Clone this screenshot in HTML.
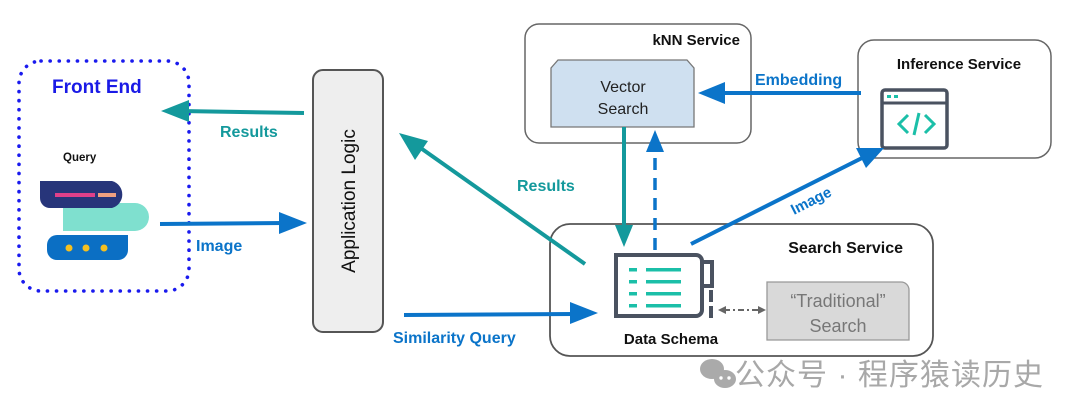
<!DOCTYPE html>
<html><head><meta charset="utf-8"><style>
html,body{margin:0;padding:0;background:#fff;}
svg{display:block;font-family:"Liberation Sans",Arial,sans-serif;}
</style></head><body>
<svg width="1080" height="417" viewBox="0 0 1080 417" xmlns="http://www.w3.org/2000/svg">

<!-- Front End -->
<rect x="19" y="61" width="170" height="230" rx="22" fill="none" stroke="#1a1aee" stroke-width="3.6" stroke-dasharray="0.1 9" stroke-linecap="round"/>
<text x="52" y="93" font-size="19" font-weight="bold" fill="#1a1ae6">Front End</text>
<text x="63" y="161" font-size="11.5" font-weight="bold" fill="#111">Query</text>
<path d="M63,203 h72 a14,14 0 0 1 0,28 h-72 z" fill="#7fe0cf"/>
<path d="M40,181 h72 a14,14 0 0 1 0,27 h-62 a10,10 0 0 1 -10,-10 z" fill="#27357a"/>
<rect x="55" y="193" width="40" height="4" fill="#e0408a"/>
<rect x="98" y="193" width="18" height="4" fill="#f0a080"/>
<path d="M57,235 h71 v15 a10,10 0 0 1 -10,10 h-61 a10,10 0 0 1 -10,-10 v-5 a10,10 0 0 1 10,-10 z" fill="#0b6fc4"/>
<circle cx="69" cy="248" r="3.5" fill="#f5c020"/><circle cx="86" cy="248" r="3.5" fill="#f5c020"/><circle cx="104" cy="248" r="3.5" fill="#f5c020"/>

<!-- Application Logic -->
<rect x="313" y="70" width="70" height="262" rx="10" fill="#eeeeee" stroke="#555" stroke-width="2"/>
<text transform="translate(355,201) rotate(-90)" text-anchor="middle" font-size="19" fill="#111">Application Logic</text>

<!-- kNN Service -->
<rect x="525" y="24" width="226" height="119" rx="14" fill="#fff" stroke="#666" stroke-width="1.5"/>
<text x="740" y="45" text-anchor="end" font-size="15" font-weight="bold" fill="#111">kNN Service</text>
<polygon points="558,60 687,60 694,68 694,127 551,127 551,68" fill="#cfe0f0" stroke="#777" stroke-width="1.3"/>
<text x="623" y="92" text-anchor="middle" font-size="16" fill="#222">Vector</text>
<text x="623" y="114" text-anchor="middle" font-size="16" fill="#222">Search</text>

<!-- Inference Service -->
<rect x="858" y="40" width="193" height="118" rx="16" fill="#fff" stroke="#666" stroke-width="1.5"/>
<text x="959" y="69" text-anchor="middle" font-size="15" font-weight="bold" fill="#111">Inference Service</text>
<rect x="882" y="90" width="65" height="58" rx="3" fill="none" stroke="#4a5260" stroke-width="3.5"/>
<line x1="882" y1="103" x2="947" y2="103" stroke="#4a5260" stroke-width="3"/>
<rect x="887" y="95" width="4" height="3" fill="#1bbfa8"/><rect x="894" y="95" width="4" height="3" fill="#1bbfa8"/>
<polyline points="908,115 899,124 908,133" fill="none" stroke="#1bbfa8" stroke-width="3"/>
<polyline points="925,115 934,124 925,133" fill="none" stroke="#1bbfa8" stroke-width="3"/>
<line x1="919" y1="113" x2="914" y2="135" stroke="#1bbfa8" stroke-width="3"/>

<!-- Search Service -->
<rect x="550" y="224" width="383" height="132" rx="20" fill="#fff" stroke="#555" stroke-width="1.8"/>
<text x="903" y="253" text-anchor="end" font-size="16" font-weight="bold" fill="#111">Search Service</text>

<!-- Results left arrow -->
<line x1="304" y1="113" x2="180" y2="111" stroke="#14999c" stroke-width="4"/>
<polygon points="161,111 189,100 189,122" fill="#14999c"/>
<text x="220" y="137" font-size="16" font-weight="bold" fill="#14999c">Results</text>

<!-- Image arrow -->
<line x1="160" y1="224" x2="285" y2="223" stroke="#0b74c9" stroke-width="4"/>
<polygon points="307,223 279,212 279,234" fill="#0b74c9"/>
<text x="196" y="251" font-size="16" font-weight="bold" fill="#0b74c9">Image</text>

<!-- Results diagonal -->
<line x1="585" y1="264" x2="415" y2="144" stroke="#14999c" stroke-width="4"/>
<polygon points="399,133 428,141 415,160" fill="#14999c"/>
<text x="517" y="191" font-size="16" font-weight="bold" fill="#14999c">Results</text>

<!-- Similarity query -->
<line x1="404" y1="315" x2="575" y2="314" stroke="#0b74c9" stroke-width="4"/>
<polygon points="598,313 570,302 570,324" fill="#0b74c9"/>
<text x="393" y="343" font-size="16" font-weight="bold" fill="#0b74c9">Similarity Query</text>

<!-- Embedding arrow -->
<line x1="861" y1="93" x2="720" y2="93" stroke="#0b74c9" stroke-width="4"/>
<polygon points="698,93 725,82 725,104" fill="#0b74c9"/>
<text x="755" y="85" font-size="16" font-weight="bold" fill="#0b74c9">Embedding</text>

<!-- vertical connectors -->
<line x1="624" y1="127" x2="624" y2="230" stroke="#14999c" stroke-width="4"/>
<polygon points="624,247 615,225 633,225" fill="#14999c"/>
<line x1="655" y1="250" x2="655" y2="150" stroke="#0b74c9" stroke-width="3.5" stroke-dasharray="12 8"/>
<polygon points="655,130 646,152 664,152" fill="#0b74c9"/>

<!-- Image diagonal -->
<line x1="691" y1="244" x2="866" y2="156" stroke="#0b74c9" stroke-width="4"/>
<polygon points="884,148 856,148 866,168" fill="#0b74c9"/>
<text transform="translate(794,215) rotate(-27)" font-size="15" font-weight="bold" fill="#0b74c9">Image</text>

<!-- Data schema icon -->
<path d="M616,255 h80 a6,6 0 0 1 6,6 v49 a6,6 0 0 1 -6,6 h-80 z" fill="#fff" stroke="#4a5260" stroke-width="4"/>
<path d="M702,262 h10 v24 h-10" fill="none" stroke="#4a5260" stroke-width="4"/>
<rect x="709" y="290" width="4" height="12" fill="#4a5260"/>
<rect x="709" y="306" width="4" height="12" fill="#4a5260"/>
<g fill="#1bbfa8">
<rect x="629" y="268" width="8" height="3.5"/><rect x="646" y="268" width="35" height="3.5"/>
<rect x="629" y="280" width="8" height="3.5"/><rect x="646" y="280" width="35" height="3.5"/>
<rect x="629" y="292" width="8" height="3.5"/><rect x="646" y="292" width="35" height="3.5"/>
<rect x="629" y="304" width="8" height="3.5"/><rect x="646" y="304" width="35" height="3.5"/>
</g>
<text x="671" y="344" text-anchor="middle" font-size="15" font-weight="bold" fill="#111">Data Schema</text>

<!-- Traditional search -->
<path d="M767,282 h134 a8,8 0 0 1 8,8 v50 h-142 z" fill="#d9d9d9" stroke="#999" stroke-width="1.3"/>
<text x="838" y="307" text-anchor="middle" font-size="18" fill="#777">“Traditional”</text>
<text x="838" y="332" text-anchor="middle" font-size="18" fill="#777">Search</text>

<!-- dashed double arrow -->
<line x1="724" y1="310" x2="758" y2="310" stroke="#666" stroke-width="2" stroke-dasharray="6 3 2 3"/>
<polygon points="718,310 726,306 726,314" fill="#666"/>
<polygon points="766,310 758,306 758,314" fill="#666"/>

<!-- watermark -->
<g fill="#aaa">
<ellipse cx="712" cy="369" rx="12" ry="10"/>
<ellipse cx="725" cy="379" rx="11" ry="9"/>
<circle cx="721" cy="378" r="1.7" fill="#fff"/><circle cx="729" cy="378" r="1.7" fill="#fff"/>
</g>
<text x="735" y="385" font-size="30" fill="#a8a8a8" textLength="308" font-family="'Liberation Sans','Noto Sans CJK SC',sans-serif">公众号 · 程序猿读历史</text>
</svg>
</body></html>
